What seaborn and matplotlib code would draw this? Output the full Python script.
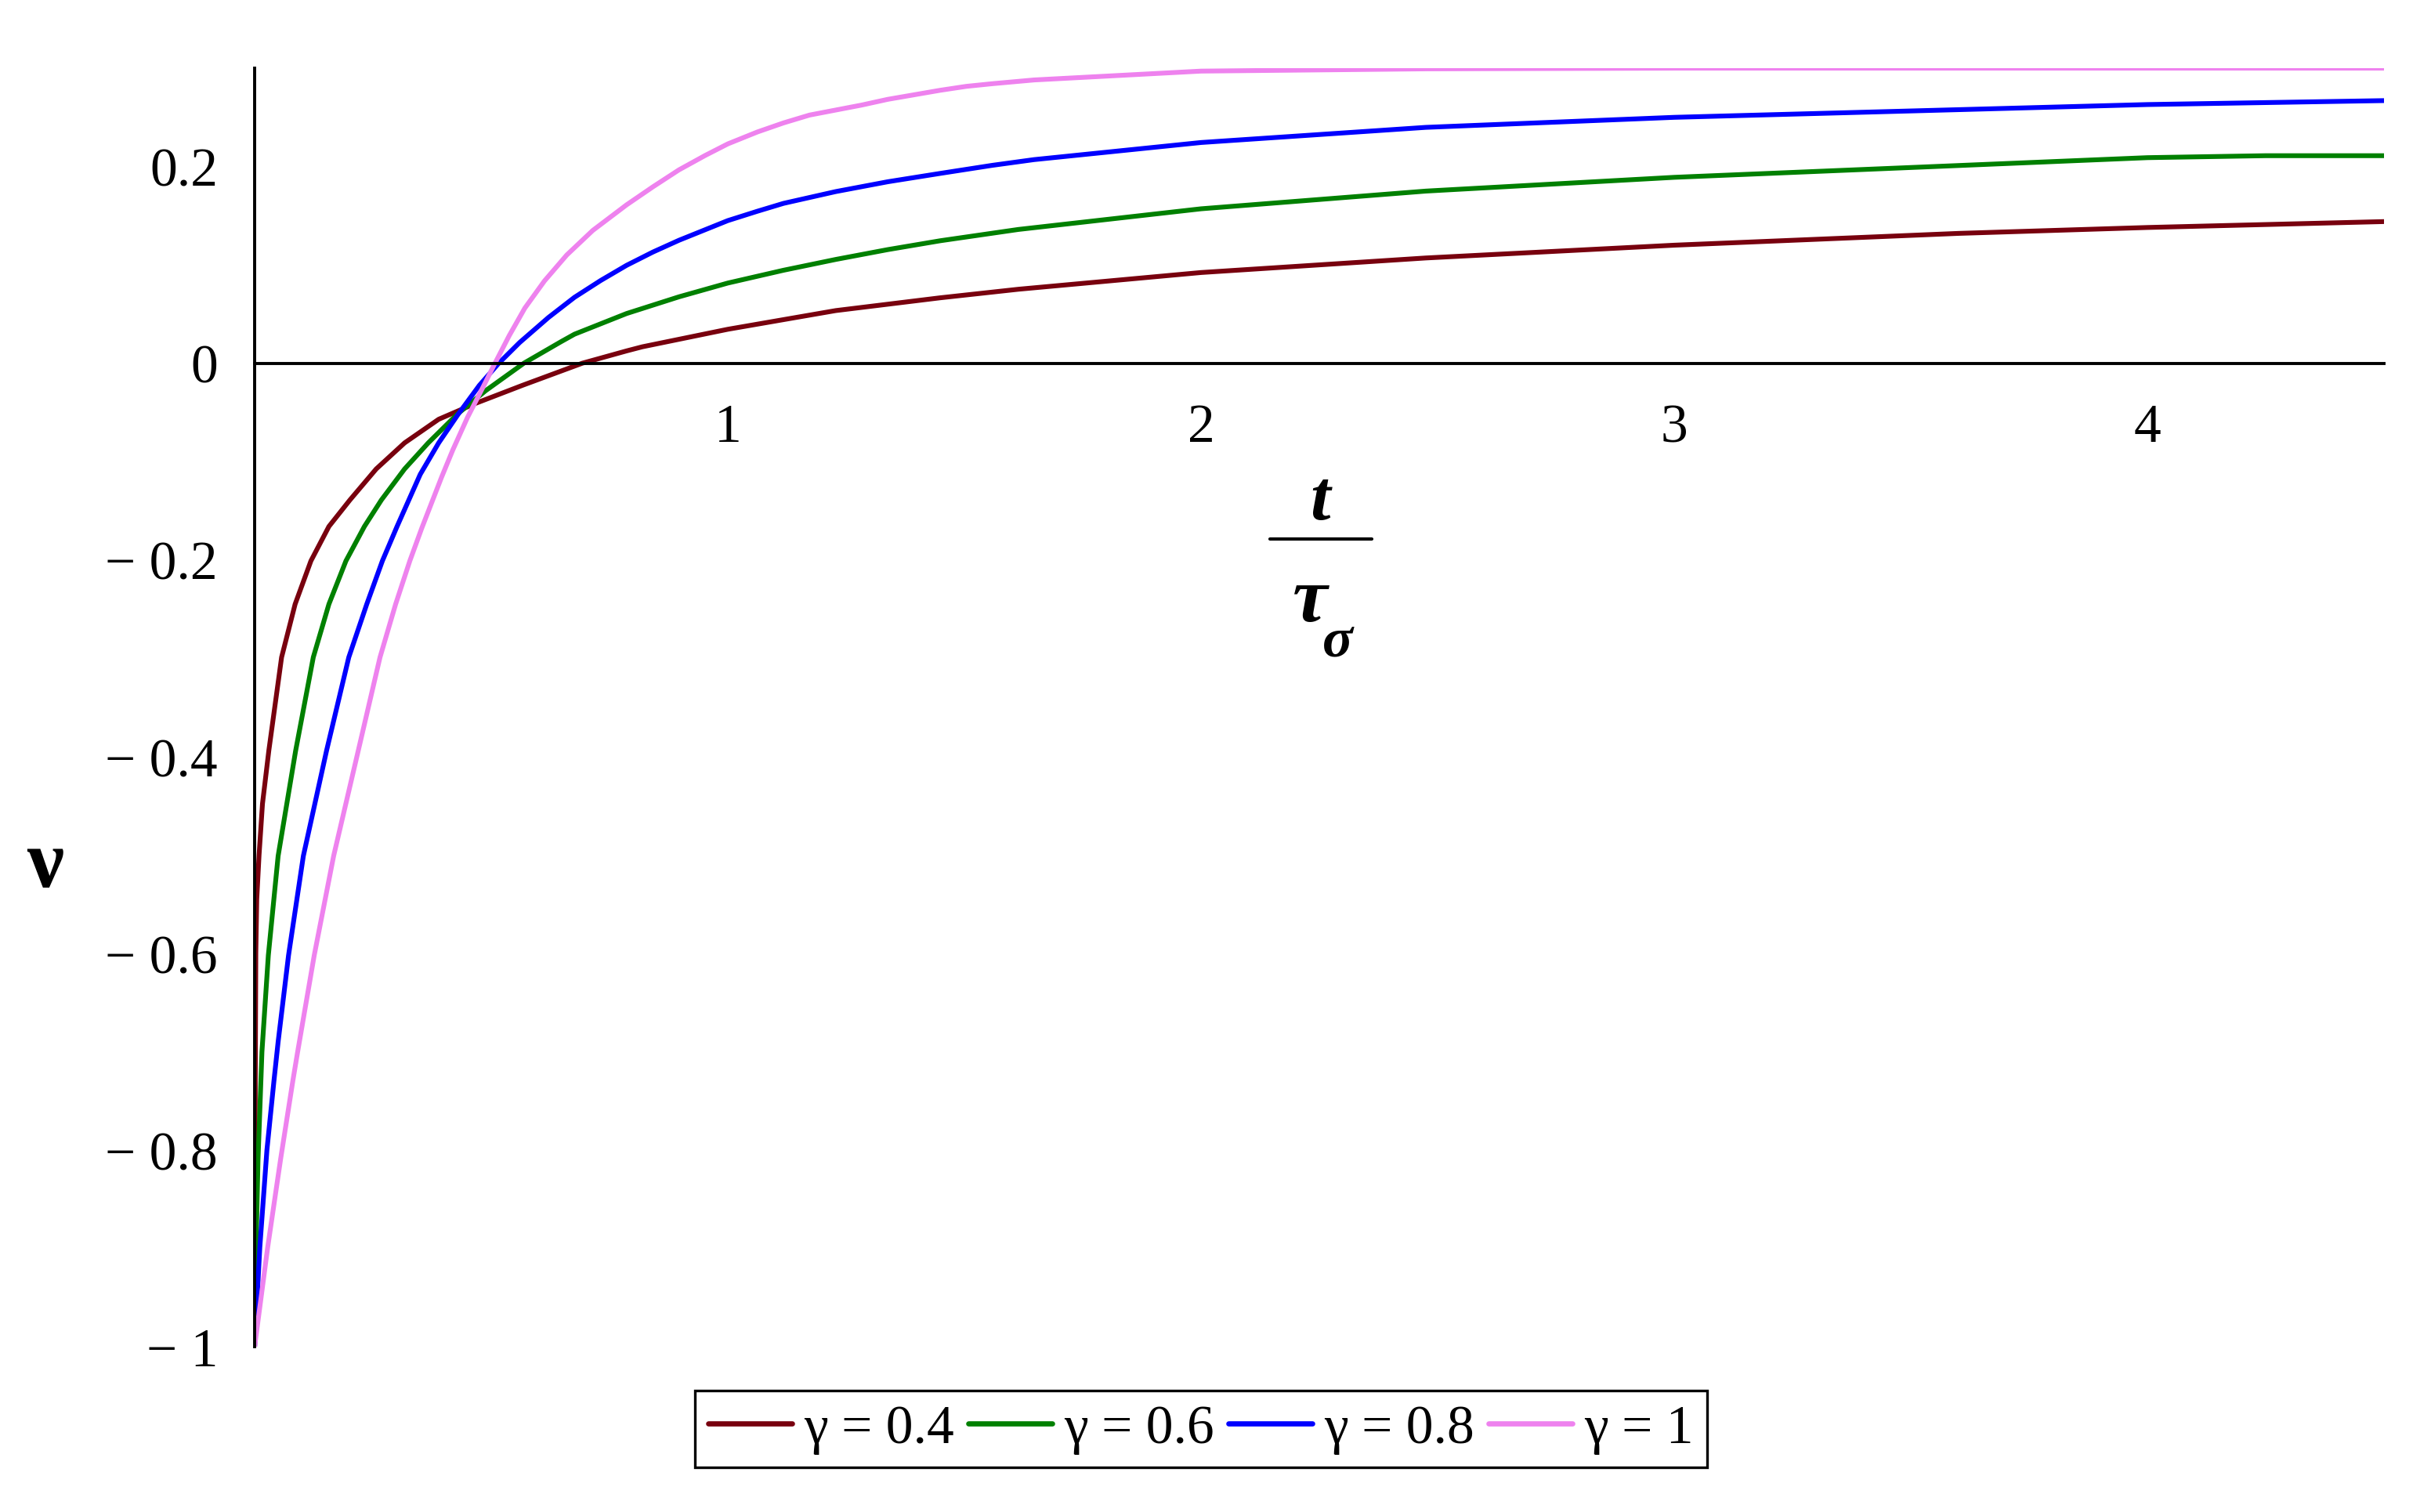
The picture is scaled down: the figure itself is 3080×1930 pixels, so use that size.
import pandas as pd
import seaborn as sns
import matplotlib.pyplot as plt
from matplotlib.lines import Line2D
from matplotlib.ticker import FixedLocator

# valores (t/tau_sigma, nu) para cada gamma
t_g04 = [0, 0.0008, 0.0025, 0.0045, 0.0094, 0.0166, 0.030, 0.057, 0.0856, 0.119, 0.157, 0.2015,
         0.257, 0.317, 0.389, 0.466, 0.566, 0.6925, 0.786, 0.8195, 1.0, 1.228, 1.4487, 1.614,
         2.0, 2.475, 3.0, 3.601, 4.0, 4.5]
nu_g04 = [-1, -0.80, -0.60, -0.545, -0.50, -0.448, -0.394, -0.299, -0.245, -0.201, -0.166, -0.139,
          -0.1075, -0.081, -0.057, -0.041, -0.0225, 0.0, 0.0125, 0.0167, 0.0345, 0.0535, 0.0665,
          0.0752, 0.0922, 0.107, 0.120, 0.132, 0.138, 0.144]

t_g06 = [0, 0.003, 0.0072, 0.0155, 0.029, 0.0497, 0.0867, 0.124, 0.157, 0.193, 0.232, 0.268,
         0.317, 0.367, 0.428, 0.488, 0.569, 0.648, 0.676, 0.786, 0.8968, 1.0, 1.1175, 1.228,
         1.338, 1.4487, 1.614, 2.0, 2.475, 3.0, 3.601, 4.0, 4.25, 4.5]
nu_g06 = [-1, -0.90, -0.81, -0.70, -0.602, -0.501, -0.394, -0.299, -0.245, -0.201, -0.166,
          -0.139, -0.1075, -0.081, -0.052, -0.028, 0.0, 0.022, 0.0295, 0.0505, 0.0675, 0.0815,
          0.0945, 0.1055, 0.1155, 0.1245, 0.136, 0.157, 0.175, 0.189, 0.201, 0.209, 0.211, 0.211]

t_g08 = [0, 0.011, 0.026, 0.041, 0.0497, 0.0717, 0.103, 0.152, 0.199, 0.237, 0.270, 0.301, 0.350,
         0.389, 0.430, 0.475, 0.516, 0.560, 0.621, 0.676, 0.731, 0.786, 0.8416, 0.8968, 1.0,
         1.0624, 1.1175, 1.228, 1.338, 1.449, 1.559, 1.647, 2.0, 2.475, 3.0, 3.601, 4.0, 4.5]
nu_g08 = [-1, -0.899, -0.80, -0.729, -0.69, -0.602, -0.501, -0.394, -0.299, -0.245, -0.201,
          -0.166, -0.113, -0.081, -0.052, -0.0225, 0.0, 0.021, 0.0465, 0.067, 0.084, 0.0995,
          0.113, 0.125, 0.145, 0.1545, 0.1625, 0.1745, 0.1845, 0.193, 0.2012, 0.207, 0.2244,
          0.2398, 0.250, 0.2578, 0.263, 0.267]

t_g10 = [0, 0.0276, 0.055, 0.081, 0.091, 0.126, 0.167, 0.219, 0.265, 0.298, 0.328, 0.353, 0.395,
         0.419, 0.450, 0.483, 0.508, 0.538, 0.571, 0.6126, 0.6596, 0.7146, 0.786, 0.8416, 0.8968,
         0.952, 1.0, 1.0624, 1.1175, 1.1727, 1.2831, 1.338, 1.4487, 1.504, 1.559, 1.647, 2.0,
         2.475, 3.0, 3.6, 4.5]
nu_g10 = [-1, -0.899, -0.809, -0.729, -0.700, -0.602, -0.501, -0.394, -0.299, -0.245, -0.201,
          -0.168, -0.116, -0.088, -0.055, -0.024, 0.0, 0.028, 0.056, 0.0837, 0.110, 0.135,
          0.161, 0.1793, 0.1966, 0.2112, 0.223, 0.2351, 0.2443, 0.2523, 0.2625, 0.2683, 0.2775,
          0.2815, 0.2842, 0.288, 0.297, 0.2993, 0.300, 0.300, 0.300]

gamma_labels = ['γ = 0.4', 'γ = 0.6', 'γ = 0.8', 'γ = 1']
colors = ['#78000E', '#008000', '#0000FF', '#EE82EE']

x_major = [1, 2, 3, 4]
x_minor = [0.5, 1.5, 2.5, 3.5, 4.5]
y_major = [-1, -0.8, -0.6, -0.4, -0.2, 0, 0.2]
y_major_labels = ['\u2212 1', '\u2212 0.8', '\u2212 0.6', '\u2212 0.4', '\u2212 0.2', '0', '0.2']
y_minor = [-0.9, -0.7, -0.5, -0.3, -0.1, 0.1]

# monta o DataFrame longo
frames = []
for lab, t, nu in zip(gamma_labels, [t_g04, t_g06, t_g08, t_g10],
                      [nu_g04, nu_g06, nu_g08, nu_g10]):
    frames.append(pd.DataFrame({'t': t, 'nu': nu, 'gamma': lab}))
df = pd.concat(frames, ignore_index=True)

sns.set_style('white')
plt.rcParams['font.family'] = ['Liberation Serif', 'DejaVu Serif']
plt.rcParams['text.color'] = 'black'
plt.rcParams['xtick.color'] = 'black'
plt.rcParams['ytick.color'] = 'black'

W, H = 3080, 1931
fig = plt.figure(figsize=(W / 200, H / 200), dpi=200)
ax = fig.add_axes([325 / W, 1 - 1720 / H, (3043 - 325) / W, (1720 - 88) / H])

sns.lineplot(data=df, x='t', y='nu', hue='gamma', hue_order=gamma_labels, palette=colors,
             estimator=None, ax=ax)
for line in ax.lines:
    line.set_linewidth(2.2)
    line.set_solid_joinstyle('round')

ax.set_xlim(0, 4.5)
ax.set_ylim(-1, 0.3)

# eixos cruzando na origem, estilo Maple
for s in ['top', 'right']:
    ax.spines[s].set_visible(False)
ax.spines['bottom'].set_position(('data', 0))
ax.spines['left'].set_position(('data', 0))
for s in ['bottom', 'left']:
    ax.spines[s].set_linewidth(1.4)
    ax.spines[s].set_color('black')

ax.xaxis.set_major_locator(FixedLocator(x_major))
ax.xaxis.set_minor_locator(FixedLocator(x_minor))
ax.set_xticklabels([str(v) for v in x_major])
ax.yaxis.set_major_locator(FixedLocator(y_major))
ax.yaxis.set_minor_locator(FixedLocator(y_minor))
ax.set_yticklabels(y_major_labels)

ax.tick_params(which='major', length=9.4, width=1.4, color='black', labelsize=25,
               direction='out', labelcolor='black')
ax.tick_params(which='minor', length=5, width=1.4, color='black', direction='out')
ax.tick_params(axis='x', which='major', pad=9)
ax.tick_params(axis='y', which='major', pad=7.5)
ax.set_xlabel('')
ax.set_ylabel('')

# legenda embaixo, com moldura
handles, labels = ax.get_legend_handles_labels()
ax.get_legend().remove()
for h in handles:
    h.set_linewidth(2.4)
leg = fig.legend(handles, labels, loc='center', bbox_to_anchor=(1533 / W, 1 - 1825 / H),
                 ncol=4, frameon=True, fancybox=False, edgecolor='black', framealpha=1,
                 handlelength=1.54, handletextpad=0.22, columnspacing=0.26, borderpad=0.25,
                 borderaxespad=0, fontsize=25)
leg.get_frame().set_linewidth(1.2)

# rótulo do eixo x: fração t / tau_sigma
fig.text(1685 / W, 1 - 663 / H, 't', fontsize=33, style='italic', weight='bold',
         ha='center', va='baseline')
fig.add_artist(Line2D([1621 / W, 1751 / W], [1 - 689 / H, 1 - 689 / H],
                      color='black', lw=1.5, transform=fig.transFigure))
fig.text(1672 / W, 1 - 793 / H, 'τ', fontsize=36, style='italic', weight='bold',
         ha='center', va='baseline')
fig.text(1707 / W, 1 - 837 / H, 'σ', fontsize=26, style='italic', weight='bold',
         ha='center', va='baseline')

# rótulo do eixo y
fig.text(58 / W, 1 - 1132 / H, 'ν', fontsize=38, weight='bold', ha='center', va='baseline')

fig.savefig('out.png', dpi=200)
